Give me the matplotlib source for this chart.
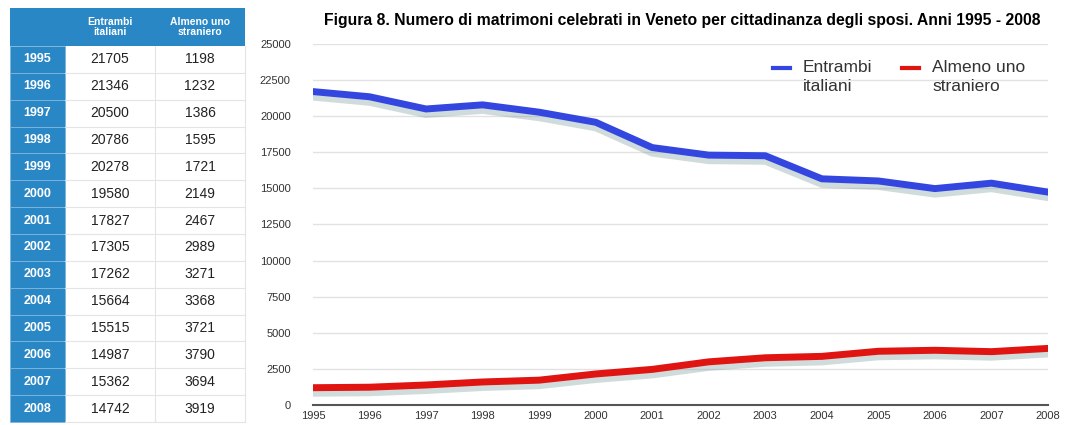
import matplotlib.pyplot as plt
import matplotlib.patheffects as pe
from matplotlib.patches import Rectangle

plt.rcParams['font.family'] = ['Liberation Sans', 'DejaVu Sans']

anni = [1995, 1996, 1997, 1998, 1999, 2000, 2001, 2002, 2003, 2004, 2005, 2006, 2007, 2008]
entrambi_italiani = [21705, 21346, 20500, 20786, 20278, 19580, 17827, 17305, 17262, 15664, 15515, 14987, 15362, 14742]
almeno_uno_straniero = [1198, 1232, 1386, 1595, 1721, 2149, 2467, 2989, 3271, 3368, 3721, 3790, 3694, 3919]
intestazioni = ["Entrambi\nitaliani", "Almeno uno\nstraniero"]
titolo = "Figura 8. Numero di matrimoni celebrati in Veneto per cittadinanza degli sposi. Anni 1995 - 2008"

blu_tab = "#2a87c6"
blu = "#3347e0"
rosso = "#e01410"

fig = plt.figure(figsize=(10.67, 4.25), dpi=100)

# %% tabella a sinistra
W, H = 1067, 425
tab = fig.add_axes([0, 0, 1, 1])
tab.set_xlim(0, W)
tab.set_ylim(H, 0)
tab.axis("off")

col_x = [10, 65, 155, 245]
head_top, head_bot = 8, 46
row_h = (422 - head_bot) / len(anni)

tab.add_patch(Rectangle((col_x[0], head_top), col_x[3] - col_x[0], head_bot - head_top,
                        facecolor=blu_tab, edgecolor="none"))
for j, h in enumerate(intestazioni):
    tab.text((col_x[j + 1] + col_x[j + 2]) / 2, (head_top + head_bot) / 2, h, color="white",
             fontsize=7.5, fontweight="bold", ha="center", va="center", linespacing=0.95)
for i, a in enumerate(anni):
    y0 = head_bot + i * row_h
    tab.add_patch(Rectangle((col_x[0], y0), col_x[1] - col_x[0], row_h,
                            facecolor=blu_tab, edgecolor="#7fb6dd", linewidth=0.6))
    tab.text((col_x[0] + col_x[1]) / 2, y0 + row_h / 2, str(a), color="white",
             fontsize=9, fontweight="bold", ha="center", va="center")
    tab.plot([col_x[1], col_x[3]], [y0 + row_h, y0 + row_h], color="#e4e4e4", lw=0.8)
    tab.text((col_x[1] + col_x[2]) / 2, y0 + row_h / 2, str(entrambi_italiani[i]),
             color="#222222", fontsize=10, ha="center", va="center")
    tab.text((col_x[2] + col_x[3]) / 2, y0 + row_h / 2, str(almeno_uno_straniero[i]),
             color="#222222", fontsize=10, ha="center", va="center")
for x in col_x[2:]:
    tab.plot([x, x], [head_bot, 422], color="#e4e4e4", lw=0.8)

# %% grafico
ax = fig.add_axes([313 / W, 20 / H, (1048 - 313) / W, (405 - 44) / H])
ombra = [pe.SimpleLineShadow(offset=(0, -4), shadow_color="#7a9a9a", alpha=0.35), pe.Normal()]
ax.plot(anni, entrambi_italiani, color=blu, lw=5, solid_capstyle="round", path_effects=ombra)
ax.plot(anni, almeno_uno_straniero, color=rosso, lw=5, solid_capstyle="round", path_effects=ombra)

ax.set_xlim(1995, 2008)
ax.set_ylim(0, 25000)
ax.set_yticks(range(0, 25001, 2500))
ax.set_xticks(anni)
ax.tick_params(axis="both", length=0, labelsize=8, colors="#333333")
ax.tick_params(axis="y", pad=16)
ax.tick_params(axis="x", pad=4)
ax.grid(axis="y", color="#e2e2e2", lw=1)
ax.set_axisbelow(True)
for s in ["top", "right", "left"]:
    ax.spines[s].set_visible(False)
ax.spines["bottom"].set_color("#555555")
ax.spines["bottom"].set_linewidth(1.5)

fig.text(682 / W, 1 - 20 / H, titolo, fontsize=11.3, fontweight="bold", ha="center", va="center")

# legenda: trattino allineato alla prima riga del testo
for x0, col, lab in [(773, blu, intestazioni[0]), (902, rosso, intestazioni[1])]:
    fig.add_artist(plt.Line2D([x0 / W, (x0 + 17) / W], [1 - 68 / H, 1 - 68 / H],
                              color=col, lw=3))
    fig.text((x0 + 30) / W, 1 - 60 / H, lab.replace("\n", "\n"), fontsize=12.5,
             color="#333333", ha="left", va="top", linespacing=1.3)

fig.savefig("out.png", dpi=100)
